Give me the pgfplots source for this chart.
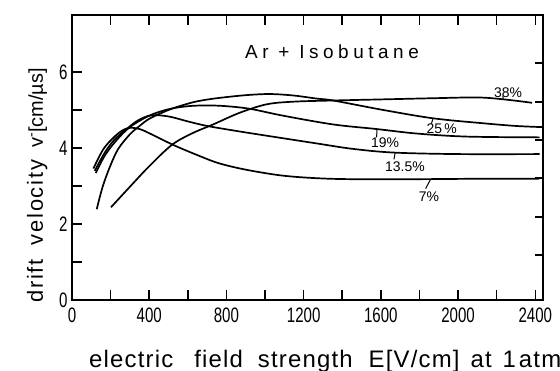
\documentclass[border=0pt]{standalone}
\usepackage{fontspec}
\setmainfont{Liberation Sans}
\newfontfamily\tickfont{Liberation Sans}[FakeStretch=0.72]
\newfontfamily\titlefont{Liberation Sans}[LetterSpace=24]
\newfontfamily\ylfont{Liberation Sans}[LetterSpace=8]
\newfontfamily\xlfont{Liberation Sans}[LetterSpace=5]
\usepackage{pgfplots}
\pgfplotsset{compat=1.18}
\begin{document}
\begin{tikzpicture}
\path[use as bounding box] (-72bp,-71bp) rectangle (488bp,300bp);
\begin{axis}[
  width=471bp, height=285bp, scale only axis,
  xmin=0, xmax=2440, ymin=0, ymax=7.5,
  xtick={0,400,...,2400}, minor xtick={200,600,...,2200},
  ytick={0,2,4,6}, minor ytick={1,3,5},
  tick align=inside, xtick pos=both, ytick pos=left,
  major tick length=10bp, minor tick length=10bp,
  tick style={black, line width=1.5bp},
  axis line style={line width=1.5bp},
  tick label style={font=\tickfont\fontsize{21}{22}\selectfont},
  xticklabel style={anchor=base, yshift=-22bp},
  yticklabel style={anchor=east, xshift=-1bp},
  /pgf/number format/assume math mode=true,
  /pgf/number format/set thousands separator={},
  clip=false,
]
% 7%
\addplot[black, line width=1.7bp, smooth, tension=0.55] coordinates {
(111,3.46) (160,3.95) (210,4.25) (260,4.46) (300,4.53) (350,4.50) (404,4.38)
(525,4.08) (646,3.82) (760,3.60) (900,3.43) (1080,3.28) (1250,3.21) (1440,3.18)
(1800,3.18) (2100,3.19) (2420,3.19)};
% 13.5%
\addplot[black, line width=1.7bp, smooth, tension=0.55] coordinates {
(118,3.40) (170,3.88) (220,4.22) (283,4.50) (340,4.72) (410,4.86) (500,4.83)
(600,4.70) (700,4.58) (850,4.45) (1000,4.33) (1268,4.12) (1450,3.98) (1665,3.88)
(2000,3.84) (2422,3.84)};
% 19%
\addplot[black, line width=1.7bp, smooth, tension=0.55] coordinates {
(123,3.34) (170,3.80) (230,4.20) (300,4.55) (400,4.85) (500,5.02) (600,5.10)
(700,5.12) (800,5.10) (923,5.03) (1094,4.85) (1353,4.62) (1576,4.50) (1787,4.38)
(2046,4.30) (2422,4.28)};
% 25%
\addplot[black, line width=1.7bp, smooth, tension=0.55] coordinates {
(128,2.39) (160,3.00) (200,3.55) (240,3.98) (300,4.36) (350,4.58) (404,4.78)
(500,5.00) (576,5.13) (650,5.23) (750,5.31) (900,5.39) (1026,5.42) (1150,5.38)
(1268,5.30) (1353,5.25) (1613,5.00) (1873,4.78) (2132,4.65) (2300,4.58) (2435,4.55)};
% 38%
\addplot[black, line width=1.7bp, smooth, tension=0.55] coordinates {
(202,2.44) (300,2.98) (400,3.52) (517,4.08) (620,4.38) (731,4.62) (870,4.93)
(1009,5.15) (1150,5.22) (1353,5.25) (1613,5.28) (1873,5.31) (2100,5.33)
(2236,5.28) (2383,5.19)};
% leaders
\draw[line width=1bp] (axis cs:2234,5.27) -- (axis cs:2232,5.37);
\draw[line width=1bp] (axis cs:1871,4.79) -- (axis cs:1862,4.64);
\draw[line width=1bp] (axis cs:1580,4.50) -- (axis cs:1578,4.28);
\draw[line width=1bp] (axis cs:1674,3.88) -- (axis cs:1668,3.70);
\draw[line width=1bp] (axis cs:1858,3.18) -- (axis cs:1832,2.93);
\node[anchor=base, font=\fontsize{14}{16}\selectfont] at (axis cs:2259,5.34) {38\%};
\node[anchor=base, font=\fontsize{14}{16}\selectfont] at (axis cs:1915,4.39) {25\,\%};
\node[anchor=base, font=\fontsize{14}{16}\selectfont] at (axis cs:1622,4.00) {19\%};
\node[anchor=base, font=\fontsize{14}{16}\selectfont] at (axis cs:1725,3.38) {13.5\%};
\node[anchor=base, font=\fontsize{14}{16}\selectfont] at (axis cs:1849,2.59) {7\%};
\node[anchor=base west, inner sep=0pt, font=\titlefont\fontsize{19}{21}\selectfont]
  at ([xshift=173bp,yshift=241bp]axis description cs:0,0) {Ar + Isobutane};
\node[anchor=base west, inner sep=0pt, font=\xlfont\fontsize{24}{26}\selectfont]
  at ([xshift=17bp,yshift=-67bp]axis description cs:0,0)
  {electric\hspace{21bp}field\hspace{15bp}strength\hspace{16bp}E[V/cm]\hspace{11bp}at\hspace{11bp}1\hspace{3bp}atm};
\node[anchor=base west, inner sep=0pt, rotate=90, font=\ylfont\fontsize{22}{24}\selectfont]
  at ([xshift=-29bp,yshift=-3bp]axis description cs:0,0)
  {drift\hspace{14bp}velocity\hspace{12bp}{\normalfont\fontsize{20}{22}\selectfont v\textsuperscript{-}[cm/µs]}};
\end{axis}
\begin{axis}[
  width=471bp, height=285bp, scale only axis,
  xmin=0, xmax=2440, ymin=0, ymax=7.5,
  axis x line=none, axis y line*=right,
  axis line style={line width=1.5bp},
  ytick={1.18,2.18,3.21,4.21,5.21,6.24}, yticklabels={},
  tick align=inside, major tick length=8bp,
  tick style={black, line width=1.5bp},
]
\end{axis}
\end{tikzpicture}
\end{document}
